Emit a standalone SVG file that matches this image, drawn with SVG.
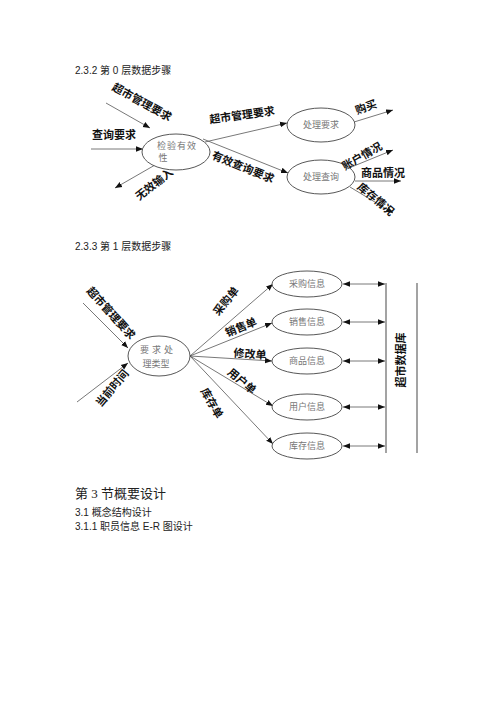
<svg xmlns="http://www.w3.org/2000/svg" width="500" height="708" viewBox="0 0 500 708">
<style>
.h{font-family:"Liberation Sans","Noto Sans CJK SC",sans-serif;font-size:10px;fill:#222}
.t{font-family:"Liberation Serif","Noto Sans CJK SC",serif;font-size:13px;fill:#222}
.lb{font-family:"Liberation Sans","Noto Sans CJK SC",sans-serif;font-size:11px;font-weight:bold;fill:#111;text-anchor:middle;dominant-baseline:central}
.n{fill:#fff;stroke:#444;stroke-width:0.9}
.nt{font-family:"Liberation Serif","Noto Sans CJK SC",serif;font-size:9px;fill:#777;text-anchor:middle;dominant-baseline:central}
.c{stroke:#555;stroke-width:0.8;fill:none}
</style>
<defs>
<marker id="a" viewBox="0 0 10 10" refX="10" refY="5" markerWidth="7" markerHeight="7" orient="auto" markerUnits="userSpaceOnUse"><path d="M0,1 L10,5 L0,9 z" fill="#111"/></marker>
<marker id="s" viewBox="0 0 10 10" refX="0" refY="5" markerWidth="7" markerHeight="7" orient="auto" markerUnits="userSpaceOnUse"><path d="M10,1 L0,5 L10,9 z" fill="#111"/></marker>
</defs>
<rect width="500" height="708" fill="#fff"/>

<text class="h" x="75" y="74">2.3.2 第 0 层数据步骤</text>
<text class="h" x="75" y="250">2.3.3 第 1 层数据步骤</text>

<g id="connectors">
<line class="c" x1="106" y1="103" x2="150" y2="128" marker-end="url(#a)"/>
<line class="c" x1="91" y1="149" x2="143" y2="149" marker-end="url(#a)"/>
<line class="c" x1="155" y1="165" x2="115" y2="188" marker-end="url(#a)"/>
<line class="c" x1="205" y1="142" x2="287" y2="123" marker-end="url(#a)"/>
<line class="c" x1="203" y1="139" x2="288" y2="173" marker-end="url(#a)"/>
<line class="c" x1="354" y1="122" x2="393" y2="110" marker-end="url(#a)"/>
<line class="c" x1="349" y1="168" x2="393" y2="150" marker-end="url(#a)"/>
<line class="c" x1="355" y1="181" x2="401" y2="181" marker-end="url(#a)"/>
<line class="c" x1="350" y1="187" x2="393" y2="213" marker-end="url(#a)"/>

<line class="c" x1="83" y1="303" x2="128" y2="348" marker-end="url(#a)"/>
<line class="c" x1="77" y1="402" x2="128" y2="363" marker-end="url(#a)"/>
<line class="c" x1="190" y1="356" x2="273" y2="284" marker-end="url(#a)"/>
<line class="c" x1="190" y1="356" x2="272" y2="323" marker-end="url(#a)"/>
<line class="c" x1="190" y1="356" x2="272" y2="361" marker-end="url(#a)"/>
<line class="c" x1="190" y1="356" x2="273" y2="406" marker-end="url(#a)"/>
<line class="c" x1="190" y1="356" x2="273" y2="444" marker-end="url(#a)"/>

<line class="c" x1="343" y1="284" x2="385" y2="284" marker-start="url(#s)" marker-end="url(#a)"/>
<line class="c" x1="343" y1="322" x2="385" y2="322" marker-start="url(#s)" marker-end="url(#a)"/>
<line class="c" x1="343" y1="361" x2="385" y2="361" marker-start="url(#s)" marker-end="url(#a)"/>
<line class="c" x1="343" y1="407" x2="385" y2="407" marker-start="url(#s)" marker-end="url(#a)"/>
<line class="c" x1="343" y1="446" x2="385" y2="446" marker-start="url(#s)" marker-end="url(#a)"/>
<line x1="386" y1="283" x2="386" y2="453" stroke="#666" stroke-width="1.2"/>
<line x1="417" y1="283" x2="417" y2="453" stroke="#666" stroke-width="1.2"/>
</g>

<g id="n_check">
<ellipse class="n" cx="176" cy="152" rx="34" ry="18"/>
<text class="nt" x="177" y="146" letter-spacing="1">检验有效</text>
<text class="nt" x="163" y="158">性</text>
</g>
<g id="n_req">
<ellipse class="n" cx="321" cy="125" rx="34" ry="17"/>
<text class="nt" x="321" y="125">处理要求</text>
</g>
<g id="n_query">
<ellipse class="n" cx="321" cy="177" rx="34" ry="17"/>
<text class="nt" x="321" y="177">处理查询</text>
</g>

<g id="n_type">
<ellipse class="n" cx="159" cy="356" rx="31" ry="20"/>
<text class="nt" x="158" y="350" letter-spacing="3">要求处</text>
<text class="nt" x="156" y="364">理类型</text>
</g>
<g id="n_purchase">
<ellipse class="n" cx="307" cy="284" rx="35" ry="13"/>
<text class="nt" x="307" y="284">采购信息</text>
</g>
<g id="n_sales">
<ellipse class="n" cx="307" cy="322" rx="35" ry="13"/>
<text class="nt" x="307" y="322">销售信息</text>
</g>
<g id="n_goods">
<ellipse class="n" cx="307" cy="361" rx="35" ry="13"/>
<text class="nt" x="307" y="361">商品信息</text>
</g>
<g id="n_user">
<ellipse class="n" cx="307" cy="407" rx="35" ry="13"/>
<text class="nt" x="307" y="407">用户信息</text>
</g>
<g id="n_stock">
<ellipse class="n" cx="307" cy="446" rx="35" ry="13"/>
<text class="nt" x="307" y="446">库存信息</text>
</g>

<g id="labels">
<text class="lb" transform="translate(142,102) rotate(29)">超市管理要求</text>
<text class="lb" x="114" y="135">查询要求</text>
<text class="lb" transform="translate(154,184) rotate(-38)">无效输入</text>
<text class="lb" transform="translate(242,115) rotate(-8)">超市管理要求</text>
<text class="lb" transform="translate(243,167) rotate(22)">有效查询要求</text>
<text class="lb" transform="translate(366,107) rotate(-20)">购买</text>
<text class="lb" transform="translate(362,156) rotate(-30)">账户情况</text>
<text class="lb" x="383" y="173">商品情况</text>
<text class="lb" transform="translate(376,199) rotate(40)">库存情况</text>

<text class="lb" transform="translate(111,313) rotate(48)">超市管理要求</text>
<text class="lb" transform="translate(112,388) rotate(-50)">当前时间</text>
<text class="lb" transform="translate(226,301) rotate(-50)">采购单</text>
<text class="lb" transform="translate(241,327) rotate(-22)">销售单</text>
<text class="lb" transform="translate(250,354) rotate(4)">修改单</text>
<text class="lb" transform="translate(242,381) rotate(40)">用户单</text>
<text class="lb" transform="translate(212,403) rotate(60)">库存单</text>
<text class="lb" transform="translate(401,360) rotate(-90)">超市数据库</text>
</g>

<text class="t" x="75" y="498">第 3 节概要设计</text>
<text class="h" x="75" y="516">3.1 概念结构设计</text>
<text class="h" x="75" y="530">3.1.1 职员信息 E-R 图设计</text>
</svg>
